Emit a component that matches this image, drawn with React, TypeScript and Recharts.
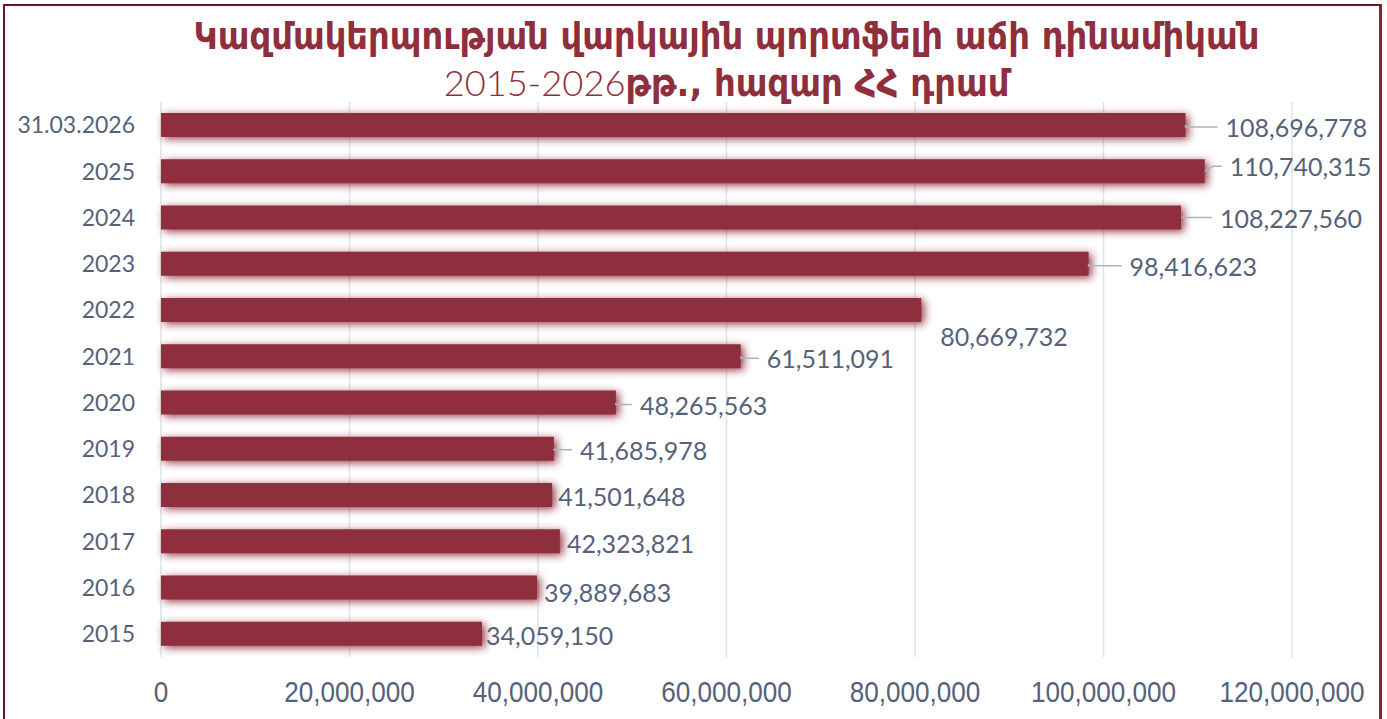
import React from 'react';
import { BarChart, Bar, XAxis, YAxis, CartesianGrid, LabelList } from 'recharts';

const categories = ['31.03.2026', '2025', '2024', '2023', '2022', '2021', '2020', '2019', '2018', '2017', '2016', '2015'];
const values = [108696778, 110740315, 108227560, 98416623, 80669732, 61511091, 48265563, 41685978, 41501648, 42323821, 39889683, 34059150];
const xTicks = [0, 20000000, 40000000, 60000000, 80000000, 100000000, 120000000];

const titleLine1 = 'Կազմակերպության վարկային պորտֆելի աճի դինամիկան';
const titleYears = '2015-2026';
const titleRest = 'թթ., հազար ՀՀ դրամ';

// label placement (layout only): horizontal gap from bar end, vertical shift, leader line
const labelLayout = [
  { dx: 40, dy: 2, leader: true },
  { dx: 25, dy: -5, leader: true },
  { dx: 39, dy: 0, leader: true },
  { dx: 41, dy: 2, leader: true },
  { dx: 19, dy: 26, leader: false },
  { dx: 26, dy: 2, leader: true },
  { dx: 24, dy: 2, leader: true },
  { dx: 26, dy: 1, leader: true },
  { dx: 6, dy: 1, leader: false },
  { dx: 7, dy: 2, leader: false },
  { dx: 7, dy: 4, leader: false },
  { dx: 4, dy: 1, leader: false },
];

const data = categories.map((name, i) => ({ name, value: values[i] }));

const BAR = '#8f2f3d';
const TEXT = '#4e5a6d';
const fmt = (v: number) => v.toLocaleString('en-US');

const BarShape = (props: any) => {
  const { x, y, width, height } = props;
  return <rect x={x} y={y} width={width} height={height} fill={BAR} filter="url(#barGlow)" />;
};

const ValueLabel = (props: any) => {
  const { x, y, width, height, value, index } = props;
  const l = labelLayout[index] || { dx: 6, dy: 0, leader: false };
  const end = x + width;
  const cy = y + height / 2;
  const lx = end + l.dx;
  const ly = cy + l.dy;
  const bend = Math.abs(l.dy) > 3 ? 8 : 0;
  return (
    <g>
      {l.leader && (
        <path
          d={`M${end},${cy} L${end + bend},${ly} L${lx - 8},${ly}`}
          fill="none"
          stroke="#a9b5c5"
          strokeWidth={1.5}
        />
      )}
      <text x={lx} y={ly} dominantBaseline="central" fill="#56627a" fontSize={25} fontFamily="Lato, sans-serif">
        {fmt(value)}
      </text>
    </g>
  );
};

const XTick = (props: any) => {
  const { x, y, payload } = props;
  return (
    <g transform={`translate(${x},${y}) scale(0.87,1)`}>
      <text
        x={0}
        y={0}
        dy="0.71em"
        textAnchor="middle"
        fill="#56627a"
        fontSize={30}
        fontFamily='"Liberation Sans", Arial, sans-serif'
      >
        {fmt(payload.value)}
      </text>
    </g>
  );
};

export default function App() {
  return (
    <div style={{ position: 'absolute', left: 0, top: 0, width: 1387, height: 719, background: '#fff', overflow: 'hidden' }}>
      <svg width={0} height={0} style={{ position: 'absolute' }}>
        <defs>
          <filter id="barGlow" x="-10%" y="-70%" width="125%" height="240%">
            <feGaussianBlur in="SourceGraphic" stdDeviation="4" result="b" />
            <feOffset in="b" dx="3" dy="2" result="o" />
            <feComponentTransfer in="o" result="f">
              <feFuncA type="linear" slope="0.95" />
            </feComponentTransfer>
            <feMerge>
              <feMergeNode in="f" />
              <feMergeNode in="SourceGraphic" />
            </feMerge>
          </filter>
        </defs>
      </svg>
      <div
        style={{
          position: 'absolute',
          left: 3,
          top: 4,
          width: 1379,
          height: 740,
          border: '2px solid #6e1424',
          borderRightColor: '#8a2535',
          borderRightWidth: 3,
          boxSizing: 'border-box',
        }}
      />
      <div style={{ position: 'absolute', left: 0, top: 0 }}>
        <BarChart
          width={1387}
          height={719}
          data={data}
          layout="vertical"
          margin={{ top: 102, right: 95, bottom: 22, left: 0 }}
          barSize={24}
        >
          <CartesianGrid horizontal={false} vertical stroke="#dde3ea" strokeWidth={1.5} />
          <XAxis
            type="number"
            domain={[0, 120000000]}
            ticks={xTicks}
            tickFormatter={fmt}
            axisLine={false}
            tickLine={false}
            tickSize={6}
            tickMargin={18}
            height={40}
            interval={0}
            tick={<XTick />}
          />
          <YAxis
            type="category"
            dataKey="name"
            width={161}
            axisLine={false}
            tickLine={false}
            tickSize={6}
            tickMargin={20}
            interval={0}
            tick={{ fill: '#56627a', fontSize: 23, fontFamily: 'Lato, sans-serif' }}
          />
          <Bar dataKey="value" isAnimationActive={false} shape={<BarShape />}>
            <LabelList dataKey="value" content={<ValueLabel />} />
          </Bar>
        </BarChart>
      </div>
      <div
        style={{
          position: 'absolute',
          left: 161,
          width: 1131,
          top: 13,
          textAlign: 'center',
          color: BAR,
          fontFamily: '"DejaVu Sans Condensed", "DejaVu Sans", sans-serif',
          fontWeight: 700,
          fontSize: 37.6,
          lineHeight: '46px',
          whiteSpace: 'nowrap',
        }}
      >
        <div>{titleLine1}</div>
        <div>
          <span style={{ fontFamily: 'Lato, sans-serif', fontWeight: 300, fontSize: 36.3 }}>{titleYears}</span>
          <span>{titleRest}</span>
        </div>
      </div>
    </div>
  );
}
